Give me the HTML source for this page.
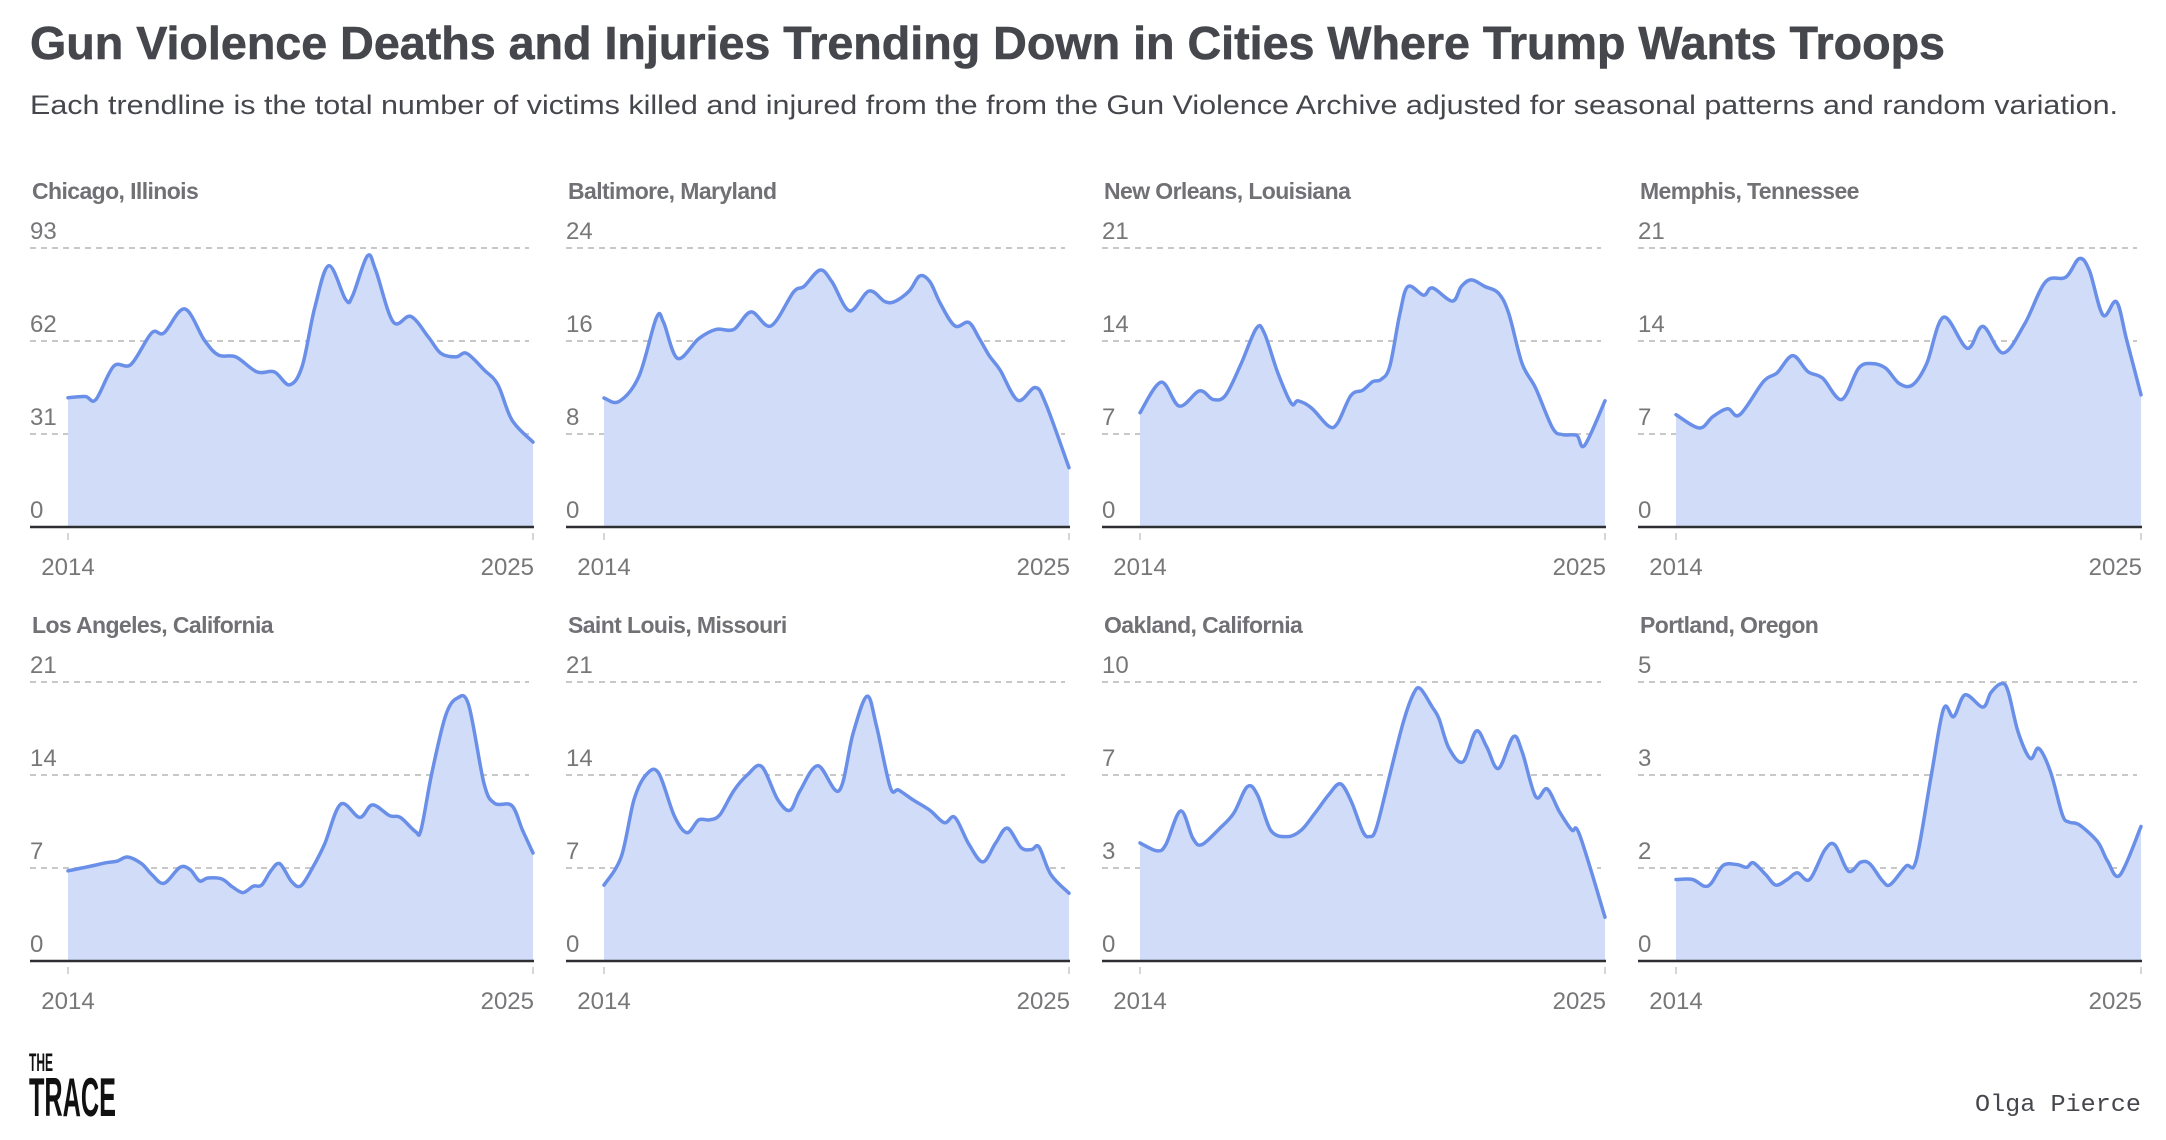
<!DOCTYPE html>
<html><head><meta charset="utf-8"><style>
html,body{margin:0;padding:0;background:#fff;}
svg{display:block;font-family:"Liberation Sans",sans-serif;}
</style></head><body>
<svg id="chart" width="2166" height="1140" viewBox="0 0 2166 1140" xmlns="http://www.w3.org/2000/svg">
<text x="30" y="59" font-size="46" font-weight="bold" fill="#45474d" stroke="#45474d" stroke-width="0.6" textLength="1915" lengthAdjust="spacingAndGlyphs">Gun Violence Deaths and Injuries Trending Down in Cities Where Trump Wants Troops</text>
<text x="30" y="114" font-size="27" fill="#45474d" textLength="2088" lengthAdjust="spacingAndGlyphs">Each trendline is the total number of victims killed and injured from the from the Gun Violence Archive adjusted for seasonal patterns and random variation.</text>
<g id="panels"></g>
<text x="29" y="1071" font-size="25" font-weight="bold" fill="#111" textLength="24" lengthAdjust="spacingAndGlyphs">THE</text>
<text x="29" y="1116" font-size="55" font-weight="bold" fill="#111" textLength="87" lengthAdjust="spacingAndGlyphs">TRACE</text>
<text x="1975" y="1111" font-size="24" font-family="Liberation Mono, monospace" fill="#45474d" textLength="166" lengthAdjust="spacingAndGlyphs">Olga Pierce</text>
</svg>
<script>
const cities = ["Chicago, Illinois","Baltimore, Maryland","New Orleans, Louisiana","Memphis, Tennessee","Los Angeles, California","Saint Louis, Missouri","Oakland, California","Portland, Oregon"];
const yMaxes = [93,24,21,21,21,21,10,5];
const tickLabels = [["0","31","62","93"],["0","8","16","24"],["0","7","14","21"],["0","7","14","21"],["0","7","14","21"],["0","7","14","21"],["0","3","7","10"],["0","2","3","5"]];
const yearStart = 2014, yearEnd = 2025;

const chicagoYears = [0,0.41,0.66,1.08,1.49,1.98,2.27,2.76,3.23,3.56,3.97,4.47,4.88,5.24,5.54,5.84,6.17,6.57,6.73,7.08,7.28,7.69,8.11,8.52,8.82,9.18,9.43,9.84,10.17,10.5,11];
const chicagoValues = [43.1,43.5,42.5,53.6,54.2,64.7,64.7,72.7,62.2,57.3,56.7,51.7,51.7,47.4,53.6,73.3,87.1,75.8,77.0,90.3,85.6,68.4,70.2,63.4,57.9,56.7,57.9,52.4,47.4,35.7,28.3];
const baltimoreYears = [0,0.36,0.83,1.24,1.41,1.74,2.24,2.65,3.07,3.48,3.95,4.48,4.73,5.11,5.39,5.81,6.27,6.64,6.88,7.22,7.47,7.71,7.96,8.3,8.63,8.88,9.12,9.37,9.79,10.2,10.45,11];
const baltimoreValues = [11.1,10.8,13.0,18.0,17.6,14.5,16.2,17.0,17.0,18.5,17.3,20.2,20.7,22.1,21.1,18.6,20.3,19.4,19.4,20.3,21.6,21.1,19.2,17.3,17.6,16.2,14.7,13.5,10.9,12.0,10.6,5.1];
const neworleansYears = [0,0.5,0.93,1.41,1.73,2.02,2.38,2.75,2.94,3.26,3.58,3.74,4.06,4.46,4.67,4.99,5.27,5.51,5.7,5.91,6.15,6.34,6.71,6.92,7.39,7.6,7.84,8.16,8.48,8.72,9.04,9.36,9.76,10.0,10.33,10.52,11];
const neworleansValues = [8.6,10.9,9.1,10.25,9.6,9.9,12.2,14.95,14.6,11.6,9.3,9.5,8.95,7.6,7.8,9.9,10.3,10.95,11.1,12.1,16.1,18.1,17.45,18.0,17.0,18.1,18.6,18.1,17.6,16.1,12.3,10.45,7.45,6.95,6.9,6.15,9.5];
const memphisYears = [0,0.55,0.87,1.22,1.51,2.07,2.39,2.76,3.12,3.47,3.92,4.32,4.64,4.96,5.28,5.6,5.93,6.33,6.89,7.26,7.74,8.25,8.74,9.22,9.54,9.78,10.1,10.42,10.66,11];
const memphisValues = [8.45,7.45,8.3,8.9,8.45,10.95,11.6,12.9,11.7,11.2,9.6,11.95,12.3,11.95,10.8,10.7,12.3,15.8,13.45,15.1,13.1,15.3,18.45,18.8,20.2,19.3,15.95,16.95,14.1,9.95];
const laYears = [0,0.5,0.91,1.16,1.41,1.74,1.98,2.27,2.65,2.89,3.11,3.31,3.64,3.89,4.14,4.38,4.58,4.8,5.01,5.29,5.51,5.79,6.07,6.45,6.9,7.2,7.61,7.86,8.22,8.35,8.6,8.93,9.21,9.48,9.84,10.09,10.5,10.75,11];
const laValues = [6.79,7.11,7.4,7.51,7.83,7.32,6.52,5.85,7.05,6.87,6.03,6.25,6.17,5.58,5.15,5.63,5.71,6.79,7.32,5.98,5.66,7.05,8.8,11.8,10.81,11.75,10.94,10.81,9.74,9.87,14.03,18.45,19.79,19.26,13.36,11.88,11.69,9.87,8.13];
const stlouisYears = [0,0.41,0.71,1.0,1.29,1.66,1.96,2.24,2.49,2.74,3.07,3.4,3.73,4.11,4.4,4.64,5.06,5.56,5.89,6.22,6.44,6.77,6.97,7.3,7.71,8.05,8.3,8.63,8.96,9.26,9.54,9.87,10.12,10.29,10.57,11];
const stlouisValues = [5.71,7.86,12.15,14.03,14.16,10.94,9.66,10.62,10.62,11.0,12.82,14.03,14.64,12.15,11.34,12.82,14.7,12.82,17.11,19.93,17.78,13.09,12.87,12.15,11.34,10.41,10.81,8.8,7.46,8.85,10.0,8.53,8.39,8.58,6.52,5.1];
const oaklandYears = [0,0.4,0.61,0.96,1.25,1.46,1.89,2.22,2.54,2.78,3.1,3.5,3.82,4.14,4.46,4.74,5.0,5.27,5.43,5.59,5.91,6.23,6.47,6.63,6.91,7.07,7.31,7.64,7.95,8.2,8.48,8.83,9.04,9.36,9.63,9.92,10.21,10.4,11];
const oaklandValues = [4.23,3.95,4.17,5.38,4.4,4.17,4.76,5.3,6.25,5.95,4.67,4.46,4.7,5.3,5.95,6.35,5.71,4.64,4.46,4.76,6.67,8.57,9.58,9.76,9.11,8.69,7.62,7.14,8.24,7.68,6.9,8.04,7.5,5.89,6.17,5.36,4.7,4.52,1.57];
const portlandYears = [0,0.39,0.67,0.84,1.11,1.43,1.67,1.83,2.12,2.36,2.63,2.87,3.16,3.52,3.76,4.08,4.37,4.59,4.88,5.07,5.44,5.68,6.04,6.33,6.57,6.84,7.26,7.45,7.69,7.85,8.09,8.38,8.58,8.86,9.14,9.3,9.54,9.97,10.21,10.5,11];
const portlandValues = [1.46,1.46,1.34,1.4,1.71,1.73,1.68,1.76,1.55,1.36,1.46,1.58,1.46,1.99,2.08,1.61,1.77,1.74,1.44,1.37,1.7,1.8,3.33,4.52,4.38,4.77,4.55,4.81,4.97,4.85,4.11,3.63,3.81,3.39,2.62,2.49,2.44,2.14,1.79,1.54,2.41];

const seriesYears = [chicagoYears,baltimoreYears,neworleansYears,memphisYears,laYears,stlouisYears,oaklandYears,portlandYears];
const seriesValues = [chicagoValues,baltimoreValues,neworleansValues,memphisValues,laValues,stlouisValues,oaklandValues,portlandValues];

const NS = "http://www.w3.org/2000/svg";
const root = document.getElementById('panels');
function mk(tag, attrs, parent){const e=document.createElementNS(NS,tag);for(const k in attrs)e.setAttribute(k,attrs[k]);parent.appendChild(e);return e;}
function smooth(pts){
  let d = "M"+pts[0][0].toFixed(1)+","+pts[0][1].toFixed(1);
  for(let i=0;i<pts.length-1;i++){
    const p0=pts[Math.max(0,i-1)],p1=pts[i],p2=pts[i+1],p3=pts[Math.min(pts.length-1,i+2)];
    const c1x=p1[0]+(p2[0]-p0[0])/6,c1y=p1[1]+(p2[1]-p0[1])/6;
    const c2x=p2[0]-(p3[0]-p1[0])/6,c2y=p2[1]-(p3[1]-p1[1])/6;
    d+=" C"+c1x.toFixed(1)+","+c1y.toFixed(1)+" "+c2x.toFixed(1)+","+c2y.toFixed(1)+" "+p2[0].toFixed(1)+","+p2[1].toFixed(1);
  }
  return d;
}
for(let i=0;i<cities.length;i++){
  const col=i%4,row=Math.floor(i/4);
  const colX=30+col*536, rowOff=row*434;
  const x0=colX+38, x1=colX+503, yTop=248+rowOff, yBase=527+rowOff;
  const xs=v=>x0+(v-0)/(yearEnd-yearStart)*(x1-x0);
  const ys=v=>yBase-(v/yMaxes[i])*(yBase-yTop);
  const g=mk('g',{},root);
  
  
  const t=mk('text',{x:colX+2,y:199+rowOff,'font-size':23,'font-weight':'bold',fill:'#707075','letter-spacing':'-0.6'},g);
  t.textContent=cities[i];
  
  
  const labs=tickLabels[i];
  for(let k=0;k<labs.length;k++){
    const gy=yBase-(k/(labs.length-1))*(yBase-yTop);
    if(k>0){
      const ln=mk('line',{x1:colX,x2:x1-4,y1:gy,y2:gy,stroke:'#c8c8c8','stroke-width':2,'stroke-dasharray':'6 5'},g);
      
      
    }
    const tl=mk('text',{x:colX,y:gy-9,'font-size':24,fill:'#77777a'},g);
    tl.textContent=labs[k];
    
    
  }
  const pts=seriesYears[i].map((yr,j)=>[xs(yr),ys(seriesValues[i][j])]);
  const lineD=smooth(pts);
  const area=mk('path',{d:lineD+" L"+x1+","+yBase+" L"+x0+","+yBase+" Z",fill:'#d1ddf8'},g);
  
  
  const line=mk('path',{d:lineD,fill:'none',stroke:'#6a8fe9','stroke-width':3.5,'stroke-linejoin':'round','stroke-linecap':'round'},g);
  
  
  const ax=mk('line',{x1:colX,x2:x1+1,y1:yBase,y2:yBase,stroke:'#2e2f33','stroke-width':2.5},g);
  
  
  [x0,x1].forEach(tx=>{
    const tk=mk('line',{x1:tx,x2:tx,y1:yBase+6,y2:yBase+13,stroke:'#c8c8c8','stroke-width':1.5},g);
    
    
  });
  const ya=mk('text',{x:x0,y:yBase+48,'font-size':24,fill:'#77777a','text-anchor':'middle'},g);
  ya.textContent=String(yearStart);
  
  
  const yb=mk('text',{x:x1+1,y:yBase+48,'font-size':24,fill:'#77777a','text-anchor':'end'},g);
  yb.textContent=String(yearEnd);
  
  
}
</script>
</body></html>
